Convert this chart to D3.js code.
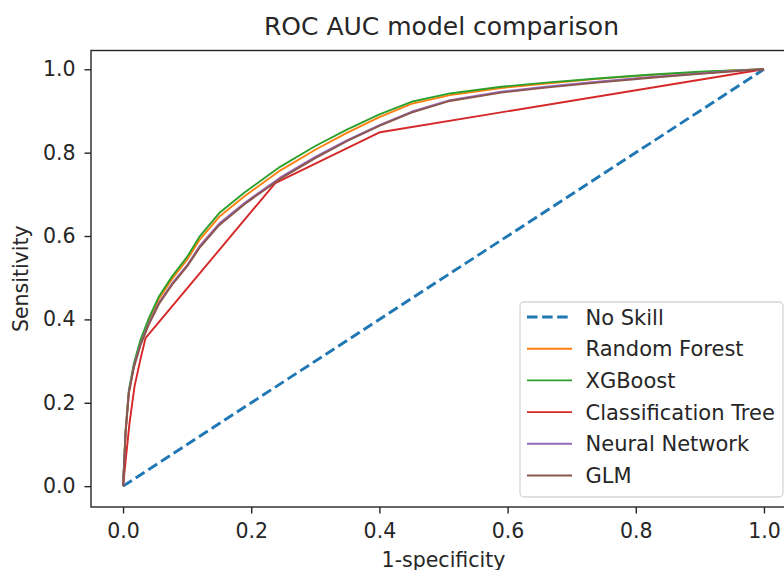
<!DOCTYPE html>
<html>
<head>
<meta charset="utf-8">
<script src="https://cdn.jsdelivr.net/npm/d3@7"></script>
<style>
  html, body { margin: 0; padding: 0; background: #fff; }
  svg { display: block; font-family: "DejaVu Sans", sans-serif; }
</style>
</head>
<body>
<svg id="chart" width="784" height="570"></svg>
<script>
// ROC curves for each model: false positive rate (1-specificity) vs sensitivity
const seriesNames = ["No Skill", "Random Forest", "XGBoost", "Classification Tree", "Neural Network", "GLM"];
const seriesColors = ["#1f77b4", "#ff7f0e", "#2ca02c", "#d62728", "#9467bd", "#8c564b"];

const noSkillFpr = [0, 1];
const noSkillTpr = [0, 1];

// shared false-positive-rate grid for the smooth model curves
const modelFpr = [0, 0.004, 0.009, 0.017, 0.027, 0.04, 0.056, 0.076, 0.1, 0.12, 0.15, 0.19, 0.245,
                  0.3, 0.35, 0.4, 0.45, 0.51, 0.59, 0.66, 0.74, 0.82, 0.9, 0.96, 1.0];
const randomForestTpr = [0, 0.13, 0.225, 0.29, 0.345, 0.397, 0.449, 0.496, 0.543, 0.592, 0.646, 0.696, 0.757,
                         0.807, 0.848, 0.885, 0.917, 0.938, 0.955, 0.966, 0.977, 0.986, 0.993, 0.998, 1];
const xgboostTpr = [0, 0.135, 0.23, 0.295, 0.35, 0.402, 0.455, 0.502, 0.55, 0.6, 0.655, 0.705, 0.766,
                    0.816, 0.856, 0.892, 0.922, 0.942, 0.958, 0.968, 0.978, 0.987, 0.994, 0.998, 1];
const neuralNetTpr = [0, 0.13, 0.225, 0.288, 0.34, 0.39, 0.44, 0.485, 0.53, 0.577, 0.63, 0.68, 0.74,
                      0.79, 0.83, 0.866, 0.898, 0.926, 0.946, 0.958, 0.97, 0.981, 0.99, 0.997, 1];
const glmTpr = [0, 0.128, 0.222, 0.285, 0.337, 0.387, 0.437, 0.482, 0.527, 0.573, 0.626, 0.677, 0.737,
                0.787, 0.828, 0.864, 0.896, 0.924, 0.944, 0.956, 0.968, 0.979, 0.989, 0.996, 1];

// the tree has only a few thresholds, so its curve is piecewise linear
const treeFpr = [0, 0.004, 0.01, 0.018, 0.028, 0.035, 0.2375, 0.401, 1];
const treeTpr = [0, 0.06, 0.15, 0.24, 0.31, 0.355, 0.727, 0.849, 1];

const tickValues = [0, 0.2, 0.4, 0.6, 0.8, 1.0];

const series = [
  { name: seriesNames[0], color: seriesColors[0], fpr: noSkillFpr, tpr: noSkillTpr, dashed: true },
  { name: seriesNames[1], color: seriesColors[1], fpr: modelFpr, tpr: randomForestTpr },
  { name: seriesNames[2], color: seriesColors[2], fpr: modelFpr, tpr: xgboostTpr },
  { name: seriesNames[3], color: seriesColors[3], fpr: treeFpr, tpr: treeTpr },
  { name: seriesNames[4], color: seriesColors[4], fpr: modelFpr, tpr: neuralNetTpr },
  { name: seriesNames[5], color: seriesColors[5], fpr: modelFpr, tpr: glmTpr }
];

const svg = d3.select("#chart");
const frame = { left: 91, right: 796, top: 50.5, bottom: 507 };

const x = d3.scaleLinear().domain([-0.05, 1.05]).range([frame.left, frame.right]);
const y = d3.scaleLinear().domain([-0.05, 1.045]).range([frame.bottom, frame.top]);

const fontSize = 20.5;
const legendFontSize = 21;
const textColor = "#262626";

// curves
const line = d3.line().x(d => x(d[0])).y(d => y(d[1]));
const curves = svg.append("g");
series.forEach(s => {
  const pts = s.fpr.map((f, i) => [f, s.tpr[i]]);
  curves.append("path")
    .datum(pts)
    .attr("d", line)
    .attr("fill", "none")
    .attr("stroke", s.color)
    .attr("stroke-width", s.dashed ? 2.9 : 1.9)
    .attr("stroke-dasharray", s.dashed ? "10.5,4.6" : null)
    .attr("stroke-linejoin", "round");
});

// axes
const xAxis = d3.axisBottom(x).tickValues(tickValues).tickFormat(d3.format(".1f")).tickSize(6.5).tickPadding(7);
const yAxis = d3.axisLeft(y).tickValues(tickValues).tickFormat(d3.format(".1f")).tickSize(6.5).tickPadding(9);

const gx = svg.append("g").attr("transform", `translate(0,${frame.bottom})`).call(xAxis);
const gy = svg.append("g").attr("transform", `translate(${frame.left},0)`).call(yAxis);
[gx, gy].forEach(g => {
  g.select(".domain").remove();
  g.selectAll(".tick line").attr("stroke", textColor).attr("stroke-width", 1.4);
  g.selectAll(".tick text").attr("fill", textColor).style("font-size", fontSize + "px")
    .style("font-family", "DejaVu Sans");
});
gx.selectAll(".tick text").attr("dy", null).attr("y", 30.5);

// frame (spines)
svg.append("rect")
  .attr("x", frame.left).attr("y", frame.top)
  .attr("width", frame.right - frame.left).attr("height", frame.bottom - frame.top)
  .attr("fill", "none").attr("stroke", textColor).attr("stroke-width", 1.4);

// title and axis labels
svg.append("text")
  .attr("x", 441.5).attr("y", 35)
  .attr("text-anchor", "middle").attr("fill", textColor)
  .style("font-size", "25px")
  .text("ROC AUC model comparison");

svg.append("text")
  .attr("x", (frame.left + frame.right) / 2).attr("y", 566.5)
  .attr("text-anchor", "middle").attr("fill", textColor)
  .style("font-size", fontSize + "px")
  .text("1-specificity");

svg.append("text")
  .attr("transform", `translate(28,${(frame.top + frame.bottom) / 2}) rotate(-90)`)
  .attr("text-anchor", "middle").attr("fill", textColor)
  .style("font-size", fontSize + "px")
  .text("Sensitivity");

// legend
const legend = svg.append("g");
legend.append("rect")
  .attr("x", 520).attr("y", 302).attr("width", 263).attr("height", 195)
  .attr("rx", 4).attr("ry", 4)
  .attr("fill", "rgba(255,255,255,0.8)").attr("stroke", "#d6d6d6").attr("stroke-width", 1.3);

const rowY = d3.scalePoint().domain(seriesNames).range([317, 475.5]);
series.forEach(s => {
  const cy = rowY(s.name);
  legend.append("line")
    .attr("x1", 527).attr("x2", 572).attr("y1", cy).attr("y2", cy)
    .attr("stroke", s.color)
    .attr("stroke-width", s.dashed ? 2.9 : 1.9)
    .attr("stroke-dasharray", s.dashed ? "10.5,4.6" : null);
  legend.append("text")
    .attr("x", 585.5).attr("y", cy + 7.5)
    .attr("fill", textColor)
    .style("font-size", legendFontSize + "px")
    .text(s.name);
});
</script>
</body>
</html>
